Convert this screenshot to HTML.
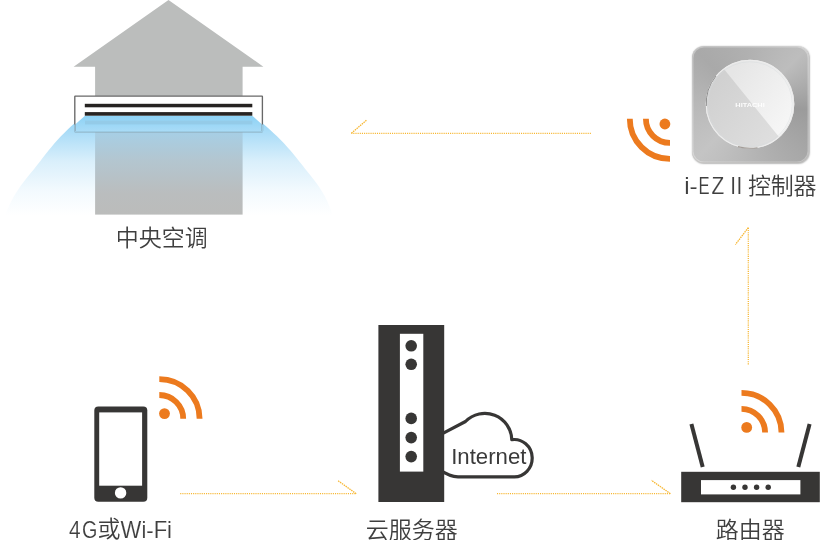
<!DOCTYPE html>
<html lang="zh-CN">
<head>
<meta charset="utf-8">
<title>i-EZ II 控制器</title>
<style>
  html, body { margin: 0; padding: 0; background: #ffffff; }
  body { width: 821px; height: 540px; overflow: hidden; }
  #stage { position: relative; width: 821px; height: 540px; overflow: hidden; background: #ffffff; }
  #stage > svg { position: absolute; left: 0; top: 0; display: block; will-change: transform; }
  .plate { position: absolute; left: 691.8px; top: 46.2px; width: 117.7px; height: 117.1px; border-radius: 12px; box-sizing: border-box;
    background: #b0b0b0;
    background: conic-gradient(from 0deg at 50% 50%, #b1b1b1 0deg, #bdbdbd 45deg, #9b9b9b 95deg, #a8a8a8 135deg, #b6b6b6 180deg, #c4c4c4 225deg, #b8b8b8 270deg, #a9a9a9 315deg, #b1b1b1 360deg);
    box-shadow: inset 0 0 0 1.5px rgba(255,255,255,0.3), inset 0 -0.5px 0.5px rgba(90,80,70,0.35), 0.5px 0.5px 1.5px rgba(0,0,0,0.28); }
  .lbl { font-family: "Liberation Sans", "Noto Sans CJK SC", sans-serif; font-weight: 350; font-size: 23px; fill: #3f3f3f; }
  .lat { font-size: 24.3px; stroke: #ffffff; stroke-width: 0.12px; }
  .net { font-family: "Liberation Sans", "Noto Sans CJK SC", sans-serif; font-weight: 400; font-size: 21.8px; fill: #3a3a3a; }
  .logo { font-family: "Liberation Sans", sans-serif; font-weight: 700; font-size: 5.3px; fill: #ffffff; fill-opacity: 0.92; }
</style>
</head>
<body>
<div id="stage">
<div class="plate"></div>
<svg width="821" height="540" viewBox="0 0 821 540">
  <defs>
    <linearGradient id="air" x1="0" y1="116" x2="0" y2="216" gradientUnits="userSpaceOnUse">
      <stop offset="0" stop-color="#8dd2f5"/>
      <stop offset="0.16" stop-color="#aadcf7"/>
      <stop offset="0.45" stop-color="#d9effb"/>
      <stop offset="0.75" stop-color="#f3fafe"/>
      <stop offset="1" stop-color="#ffffff"/>
    </linearGradient>
    <linearGradient id="body" x1="0" y1="131" x2="0" y2="214" gradientUnits="userSpaceOnUse">
      <stop offset="0" stop-color="#a6cfe6"/>
      <stop offset="0.35" stop-color="#b3c6d0"/>
      <stop offset="0.75" stop-color="#babdbe"/>
      <stop offset="1" stop-color="#bbbcbb"/>
    </linearGradient>
    <linearGradient id="dialDark" x1="706" y1="90" x2="770" y2="140" gradientUnits="userSpaceOnUse">
      <stop offset="0" stop-color="#d0d0d0"/>
      <stop offset="1" stop-color="#dedede"/>
    </linearGradient>
    <linearGradient id="dialLight" x1="735" y1="70" x2="795" y2="115" gradientUnits="userSpaceOnUse">
      <stop offset="0" stop-color="#e6e6e6"/>
      <stop offset="1" stop-color="#f6f6f6"/>
    </linearGradient>
    <clipPath id="dialClip"><circle cx="750" cy="104.1" r="43.6"/></clipPath>
  </defs>

  <!-- house -->
  <polygon points="168.5,0.1 263.4,66.7 242.6,66.7 242.6,100 95.1,100 95.1,66.7 73.6,66.7" fill="#bbbdbc"/>
  <!-- cool air -->
  <path d="M84.8,115.8 L252.3,115.8 C255.8,118.3 258.7,120.0 262.8,123.4 C266.9,126.8 272.4,131.7 277.0,136.2 C281.6,140.7 286.5,146.0 290.2,150.2 C293.9,154.4 296.2,157.6 299.1,161.2 C302.0,164.8 304.3,167.7 307.5,171.8 C310.7,175.9 315.5,181.6 318.5,186.0 C321.5,190.4 323.7,194.0 325.7,198.0 C327.8,202.0 329.4,206.5 330.8,210.0 C332.2,213.5 332.9,216.1 333.9,219.2 L333.9,226 L3.7,226 L3.7,219.2 C4.9,216.1 5.8,213.5 7.3,210.0 C8.8,206.5 10.8,202.0 13.0,198.0 C15.2,194.0 17.5,190.4 20.6,186.0 C23.7,181.6 28.5,175.9 31.8,171.8 C35.1,167.7 37.4,164.8 40.2,161.2 C43.0,157.6 45.2,154.4 48.7,150.2 C52.2,146.0 56.6,140.7 60.9,136.2 C65.2,131.7 70.3,126.8 74.3,123.4 C78.3,120.0 81.3,118.3 84.8,115.8 Z" fill="url(#air)"/>
  <rect x="95.1" y="96" width="147.5" height="118.6" fill="url(#body)"/>
  <!-- indoor unit -->
  <rect x="74.8" y="96.1" width="187.6" height="35.5" rx="0.4" ry="0.4" fill="#ffffff"/>
  <path d="M85,115.8 L252.3,115.8 L262.4,124.8 L262.4,131.6 L74.8,131.6 L74.8,124.8 Z" fill="url(#air)"/>
  <rect x="85" y="120.6" width="167.3" height="3.8" fill="#94cbe8"/>
  <rect x="74.8" y="96.1" width="187.6" height="35.5" rx="0.4" ry="0.4" fill="none" stroke="#686868" stroke-width="1.35"/>
  <path d="M74.8,124.6 V131.6 H262.4 V124.6" fill="none" stroke="#9ccbe3" stroke-width="1.3"/>
  <rect x="84.8" y="103.8" width="167.5" height="3.5" fill="#262321"/>
  <rect x="84.8" y="112.1" width="167.5" height="3.6" fill="#262321"/>
  <text class="lbl" x="161.8" y="245.8" text-anchor="middle">中央空调</text>

  <!-- controller -->
  <g>
    <circle cx="750" cy="104.1" r="44.3" fill="#e9e9e9"/>
    <g clip-path="url(#dialClip)">
      <rect x="700" y="55" width="100" height="100" fill="url(#dialLight)"/>
      <polygon points="706.7,47.7 798.8,161.3 700,161.3 700,47.7" fill="url(#dialDark)"/>
    </g>
    <circle cx="750" cy="104.1" r="43.8" fill="none" stroke="#ececec" stroke-width="1.1"/>
    <path d="M706.3,106 A43.8,43.8 0 0 1 716,76" fill="none" stroke="#909090" stroke-width="1"/>
    <circle cx="750" cy="104.1" r="42.3" fill="none" stroke="#d6dade" stroke-width="0.6" opacity="0.7"/>
    <path d="M738,146.6 A44.2,44.2 0 0 0 757.5,147.7" fill="none" stroke="#a39d98" stroke-width="1.1"/>
    <text class="logo" x="750" y="107.2" text-anchor="middle" textLength="29.4" lengthAdjust="spacingAndGlyphs">HITACHI</text>
    <text class="lbl" y="194"><tspan class="lat" x="684.2">i</tspan><tspan class="lat" x="689.6">-</tspan><tspan class="lat" x="698.4" textLength="11.1" lengthAdjust="spacingAndGlyphs">E</tspan><tspan class="lat" x="711.4" textLength="12.7" lengthAdjust="spacingAndGlyphs">Z</tspan><tspan class="lat" x="724.4"> </tspan><tspan class="lat" x="730.2" textLength="5.74" lengthAdjust="spacingAndGlyphs">I</tspan><tspan class="lat" x="736.6" textLength="5.74" lengthAdjust="spacingAndGlyphs">I</tspan><tspan class="lat" x="743"> </tspan><tspan x="747.9" y="193.6" letter-spacing="-0.15">控制器</tspan></text>
  </g>

  <!-- signal: controller -->
  <g fill="none" stroke="#ec7a1e" stroke-width="5.8">
    <path d="M670,158.9 A40.2,39.9 0 0 1 629.8,118.8"/>
    <path d="M670,142.9 A24.1,24 0 0 1 645.9,118.8"/>
  </g>
  <circle cx="664.9" cy="124" r="5.4" fill="#ec7a1e"/>

  <!-- phone -->
  <rect x="94.3" y="406.4" width="53" height="95.4" rx="4" ry="4" fill="#373635"/>
  <rect x="99.2" y="412.4" width="42.9" height="73.3" fill="#ffffff"/>
  <circle cx="120.6" cy="492.9" r="5.7" fill="#ffffff"/>
  <g fill="none" stroke="#ec7a1e" stroke-width="5.8">
    <path d="M159.3,379.2 A40.3,39.5 0 0 1 199.6,418.7"/>
    <path d="M159.3,395 A23.9,23.7 0 0 1 183.2,418.7"/>
  </g>
  <circle cx="164.5" cy="413.6" r="5.4" fill="#ec7a1e"/>
  <text class="lbl" y="537"><tspan class="lat" x="69" y="537.7" textLength="11.6" lengthAdjust="spacingAndGlyphs">4</tspan><tspan class="lat" x="82" y="537.7" textLength="15.4" lengthAdjust="spacingAndGlyphs">G</tspan><tspan x="97.6" y="537.3">或</tspan><tspan class="lat" x="120.6" y="537.7" textLength="51.4" lengthAdjust="spacingAndGlyphs">Wi-Fi</tspan></text>

  <!-- cloud server -->
  <path d="M440,434.8 L465.5,421.5 A27,27 0 0 1 511.8,439.7 A17.9,18.7 0 1 1 513.5,476.9 L458,476.9 Q450,476.7 440,470.2" fill="#ffffff" stroke="none"/>
  <text class="net" x="451.2" y="463.7" textLength="75.2" lengthAdjust="spacingAndGlyphs">Internet</text>
  <path d="M440,434.8 L465.5,421.5 A27,27 0 0 1 511.8,439.7 A17.9,18.7 0 1 1 513.5,476.9 L458,476.9 Q450,476.7 440,470.2" fill="none" stroke="#373635" stroke-width="3.2" stroke-linejoin="round"/>
  <rect x="378.4" y="325" width="65.8" height="177" fill="#373635"/>
  <rect x="399.9" y="333.8" width="23.4" height="137.8" fill="#ffffff"/>
  <g fill="#373635">
    <circle cx="411.2" cy="345.8" r="5.8"/>
    <circle cx="411.2" cy="364.3" r="5.8"/>
    <circle cx="411.2" cy="418.4" r="5.8"/>
    <circle cx="411.2" cy="437.6" r="5.8"/>
    <circle cx="411.2" cy="456.6" r="5.8"/>
  </g>
  <text class="lbl" x="411.7" y="537.6" text-anchor="middle">云服务器</text>

  <!-- router -->
  <rect x="681.2" y="471.8" width="138.6" height="30.4" fill="#373635"/>
  <rect x="701" y="480.1" width="99.4" height="14.3" fill="#ffffff"/>
  <g fill="#373635">
    <circle cx="733.4" cy="487.2" r="2.7"/>
    <circle cx="745" cy="487.2" r="2.7"/>
    <circle cx="756.6" cy="487.2" r="2.7"/>
    <circle cx="768.2" cy="487.2" r="2.7"/>
  </g>
  <g stroke="#373635" stroke-width="4" fill="none">
    <line x1="691.4" y1="424" x2="702.7" y2="467"/>
    <line x1="809.6" y1="424" x2="798.3" y2="467"/>
  </g>
  <g fill="none" stroke="#ec7a1e" stroke-width="5.8">
    <path d="M741.5,392.9 A40,39.7 0 0 1 781.5,432.5"/>
    <path d="M741.5,408.8 A23.6,23.8 0 0 1 765.1,432.5"/>
  </g>
  <circle cx="746.7" cy="427.4" r="5.4" fill="#ec7a1e"/>
  <text class="lbl" x="750.2" y="537.7" text-anchor="middle">路由器</text>

  <!-- dotted arrows -->
  <g fill="none" stroke="#f7b733" stroke-width="1.25" stroke-dasharray="1.1 1.05">
    <path d="M590.9,133.3 H351.4"/>
    <path d="M748.3,364.4 V227.6"/>
    <path d="M180.2,493.7 H356.2"/>
    <path d="M497,493.7 H670.4"/>
  </g>
  <g fill="none" stroke="#f7b733" stroke-width="1.3" stroke-dasharray="1.5 0.8">
    <path d="M351.4,133.3 L366.4,120.3"/>
    <path d="M748.3,227.6 L735.4,244.6"/>
    <path d="M356.2,493.7 L337.6,480.4"/>
    <path d="M670.4,493.7 L651.4,480.3"/>
  </g>
</svg>
</div>
</body>
</html>
